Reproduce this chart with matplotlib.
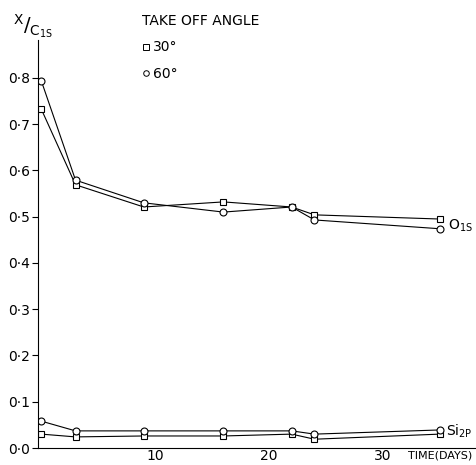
import matplotlib.pyplot as plt
from matplotlib.lines import Line2D

# time in days
days = [0, 3, 9, 16, 22, 24, 35]

# O1s ratio
o1s_30 = [0.732, 0.569, 0.521, 0.532, 0.521, 0.504, 0.495]
o1s_60 = [0.793, 0.579, 0.530, 0.510, 0.521, 0.493, 0.474]

# Si2p ratio
si2p_30 = [0.030, 0.024, 0.026, 0.026, 0.030, 0.019, 0.030]
si2p_60 = [0.058, 0.037, 0.037, 0.037, 0.037, 0.030, 0.039]

yticks = [0.0, 0.1, 0.2, 0.3, 0.4, 0.5, 0.6, 0.7, 0.8]
yticklabels = ['0·0', '0·1', '0·2', '0·3', '0·4', '0·5', '0·6', '0·7', '0·8']
xticks = [10, 20, 30]

fig = plt.figure(figsize=(4.76, 4.65), dpi=100)
ax = fig.add_axes([38 / 476, 17 / 465, 438 / 476, 408 / 465])

mk = dict(color='black', lw=0.8, markersize=5, markerfacecolor='white',
          markeredgewidth=0.8)
ax.plot(days, o1s_30, marker='s', **mk)
ax.plot(days, o1s_60, marker='o', **mk)
ax.plot(days, si2p_30, marker='s', **mk)
ax.plot(days, si2p_60, marker='o', **mk)

ax.set_xlim(-0.3, 38.2)
ax.set_ylim(0, 0.882)
ax.set_yticks(yticks)
ax.set_yticklabels(yticklabels, fontsize=10)
ax.set_xticks(xticks)
ax.set_xticklabels([str(t) for t in xticks], fontsize=10)
ax.tick_params(axis='y', direction='out', length=4, width=0.8, pad=2)
ax.tick_params(axis='x', direction='out', length=0, pad=1)

for s in ['top', 'right']:
    ax.spines[s].set_visible(False)
for s in ['left', 'bottom']:
    ax.spines[s].set_linewidth(0.8)

# axis labels
fig.text(13 / 476, 1 - 40 / 465, r'$\mathregular{^{X}/_{C_{1S}}}$',
         fontsize=14, ha='left', va='bottom')
ax.text(32.2, -0.006, 'TIME(DAYS)', fontsize=8, ha='left', va='top',
        clip_on=False)

# series labels
ax.text(days[-1] + 0.7, o1s_60[-1] + 0.006, r'$\mathregular{O_{1S}}$',
        fontsize=10, ha='left', va='center')
ax.text(days[-1] + 0.6, si2p_60[-1] - 0.002, r'$\mathregular{Si_{2P}}$',
        fontsize=10, ha='left', va='center')

handles = [
    Line2D([], [], ls='none', marker='s', color='black', markersize=4,
           markerfacecolor='white', markeredgewidth=0.7),
    Line2D([], [], ls='none', marker='o', color='black', markersize=4,
           markerfacecolor='white', markeredgewidth=0.7),
]
ax.legend(handles, ['30°', '60°'], title='TAKE OFF ANGLE', frameon=False,
          loc='upper left', bbox_to_anchor=(135 / 476, 1 - 7 / 465),
          bbox_transform=fig.transFigure, alignment='left', fontsize=10,
          title_fontsize=10, handlelength=0.6, handletextpad=0.2,
          labelspacing=0.9, borderpad=0)

fig.savefig('out.png', dpi=100)
